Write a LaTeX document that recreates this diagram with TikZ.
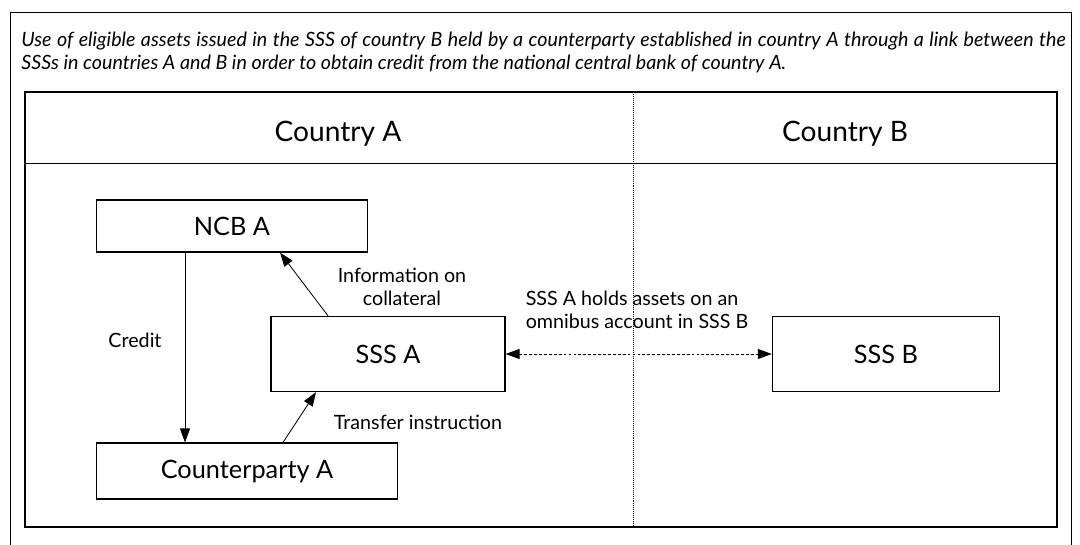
\documentclass[tikz,border=0pt]{standalone}
\usepackage{fontspec}
\setmainfont{Lato}
\usetikzlibrary{arrows.meta,calc}
\tikzset{box/.style={draw, line width=0.8pt, inner sep=0pt, font=\fontsize{18}{21}\selectfont},
	arr/.style={-{Triangle[length=3.5mm,width=2.5mm]}, line width=0.6pt},
	darr/.style={{Triangle[length=3.5mm,width=2.5mm]}-{Triangle[length=3.5mm,width=2.5mm]}, line width=0.6pt, dash pattern=on 2pt off 1.5pt},
	lbl/.style={font=\fontsize{14}{16.4}\selectfont, align=center},
	country/.style={font=\fontsize{20}{24}\selectfont}}

\begin{document}
\begin{tikzpicture}[x=0.025cm,y=-0.025cm]
		\useasboundingbox (0,0) rectangle (1080,545);
		% frames
		\draw[line width=0.6pt] (10,545) -- (10,12) -- (1071,12) -- (1071,545);
		\draw[line width=0.9pt] (25,92) rectangle (1057,527);
		\draw[line width=0.6pt] (25,163) -- (1057,163);
		\draw[densely dotted] (633,92) -- (633,527);
		\node[anchor=north west, align=left, inner sep=0pt, font=\itshape\fontsize{14}{16.4}\selectfont] (title) at (21,32)
			{\makebox[26.1cm][s]{Use of eligible assets issued in the SSS of country B held by a counterparty established in country A through a link between the}\\
			SSSs in countries A and B in order to obtain credit from the national central bank of country A.};
		\node[country] (ca) at (338,134) {Country A};
		\node[country] (cb) at (845,134) {Country B};
		\node[box, minimum width=6.78cm, minimum height=1.3cm] (ncba) at (232,226) {NCB A};
		\node[box, minimum width=5.85cm, minimum height=1.88cm] (sssa) at (388,354) {SSS A};
		\node[box, minimum width=7.53cm, minimum height=1.4cm] (cpa) at (247,471) {Counterparty A};
		\node[box, minimum width=5.68cm, minimum height=1.88cm] (sssb) at (886,354) {SSS B};
		\draw[arr] ($(ncba.south)+(-47,0)$) -- ($(cpa.north)+(-62,0)$);
		\draw[arr] ($(sssa.north)+(-60,0)$) -- ($(ncba.south)+(48,0)$);
		\draw[arr] ($(cpa.north)+(36,0)$) -- ($(sssa.south)+(-72,0)$);
		\draw[darr] (sssa) -- (sssb);
		\node[lbl] (credit) at (135,340) {Credit};
		\node[lbl] (info) at (402,287) {Information on\\collateral};
		\node[lbl] (transfer) at (418,422) {Transfer instruction};
		\node[lbl, align=left] (omnibus) at (637,310) {SSS A holds assets on an\\omnibus account in SSS B};
\end{tikzpicture}
\end{document}
